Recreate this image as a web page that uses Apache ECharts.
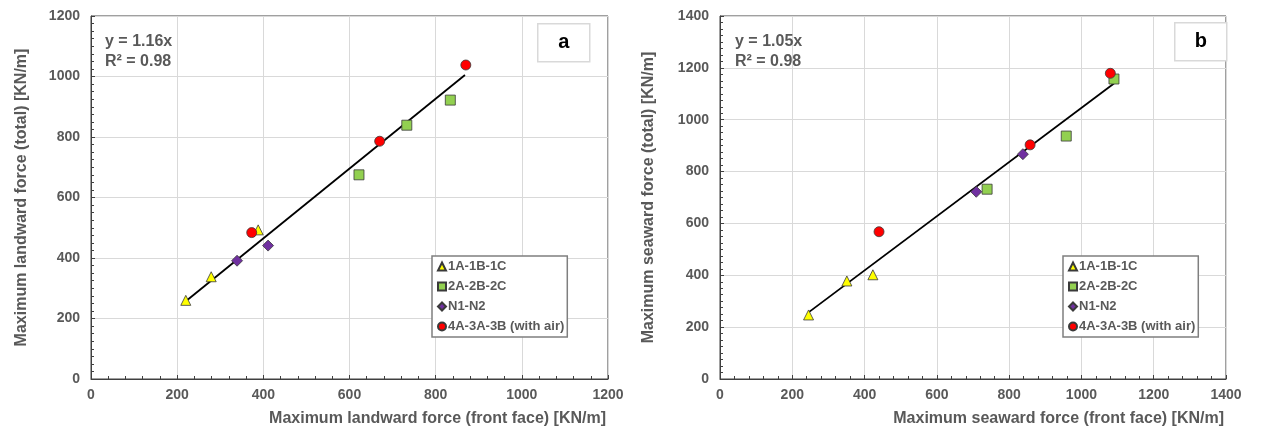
<!DOCTYPE html>
<html>
<head>
<meta charset="utf-8">
<script src="https://cdn.jsdelivr.net/npm/echarts@6/dist/echarts.min.js"></script>
<style>
html,body{margin:0;padding:0;background:#fff;}
#c{width:1262px;height:433px;}
</style>
</head>
<body>
<div id="c"></div>
<script>
// ---- data ----
const legendNames = ['1A-1B-1C', '2A-2B-2C', 'N1-N2', '4A-3A-3B (with air)'];
// panel a (landward)
const aTri = [[220, 260], [279, 338], [388, 493]];
const aSq  = [[622, 675], [733, 839], [834, 922]];
const aDia = [[339, 391], [411, 441]];
const aCir = [[373, 484], [670, 786], [870, 1038]];
const aTrendX = [220, 868];
const aTrendY = [257, 1005];
const aEq = ['y = 1.16x', 'R² = 0.98'];
// panel b (seaward)
const bTri = [[245, 247], [351, 378], [423, 402]];
const bSq  = [[739, 732], [958, 937], [1090, 1157]];
const bDia = [[709, 722], [838, 867]];
const bCir = [[440, 568], [858, 903], [1080, 1179]];
const bTrendX = [245, 1090];
const bTrendY = [257, 1140];
const bEq = ['y = 1.05x', 'R² = 0.98'];
// axes
const aMax = 1200, bMax = 1400, tickStep = 200;
const aXName = 'Maximum landward force (front face) [KN/m]';
const aYName = 'Maximum landward force (total) [KN/m]';
const bXName = 'Maximum seaward force (front face) [KN/m]';
const bYName = 'Maximum seaward force (total) [KN/m]';

// ---- styles ----
const FONT = '"Liberation Sans", Arial, sans-serif';
const GRAY = '#595959';
const symbols = ['triangle', 'rect', 'diamond', 'circle'];
const colors = ['#ffff00', '#92d050', '#7030a0', '#ff0000'];
const sizes = [10, 10, 11, 10];

function makeAxis(gridIndex, max, name, isY, nameGap) {
  const ax = {
    type: 'value', gridIndex, min: 0, max, interval: tickStep,
    axisLine: {show: true, onZero: false, lineStyle: {color: '#404040', width: 1}},
    axisTick: {show: true, inside: true, length: 4, lineStyle: {color: '#404040'}},
    minorTick: {show: true, splitNumber: isY ? 8 : 5, length: 3, lineStyle: {color: '#404040'}},
    splitLine: {show: true, lineStyle: {color: '#d9d9d9', width: 1}},
    axisLabel: {color: GRAY, fontFamily: FONT, fontWeight: 'bold', fontSize: 14, margin: isY ? 11 : 9,
      formatter: v => String(v)},
    name,
    nameTextStyle: {color: GRAY, fontFamily: FONT, fontWeight: 'bold', fontSize: 16}
  };
  if (isY) {
    ax.nameLocation = 'middle';
    ax.nameGap = nameGap;
  } else {
    ax.nameLocation = 'end';
    ax.nameGap = nameGap;
    ax.nameTextStyle.align = 'right';
    ax.nameTextStyle.verticalAlign = 'top';
    ax.nameTextStyle.padding = [32, 0, 0, 0];
  }
  return ax;
}

function scatterSeries(gi, sets) {
  return sets.map((d, i) => ({
    type: 'scatter', name: legendNames[i], xAxisIndex: gi, yAxisIndex: gi,
    symbol: symbols[i], symbolSize: sizes[i], data: d, z: 5,
    itemStyle: {color: colors[i], borderColor: '#3a3a3a', borderWidth: 0.8, opacity: 1}
  }));
}

function trendSeries(gi, xs, ys) {
  return {
    type: 'line', name: 'trend' + gi, xAxisIndex: gi, yAxisIndex: gi,
    data: xs.map((x, i) => [x, ys[i]]), symbol: 'none', z: 3,
    lineStyle: {color: '#000', width: 1.8}, silent: true
  };
}

function legendFor(left) {
  return {
    data: legendNames, orient: 'vertical', left, top: 256,
    itemWidth: 8, itemHeight: 8, itemGap: 7,
    padding: [4, 3, 4, 5], borderColor: '#7f7f7f', borderWidth: 1.5,
    backgroundColor: '#fff',
    textStyle: {color: GRAY, fontFamily: FONT, fontWeight: 'bold', fontSize: 13, padding: [0, 0, 0, -3]},
    selectedMode: false
  };
}

function eqText(x, lines) {
  return {
    type: 'text', left: x, top: 32, z: 10,
    style: {text: lines.join('\n'), fill: GRAY, font: 'bold 16px ' + FONT, lineHeight: 20}
  };
}

function panelLabel(x, y, ch) {
  return {
    type: 'group', left: x, top: y, z: 10,
    children: [
      {type: 'rect', shape: {x: 0, y: 0, width: 52, height: 38}, style: {fill: '#fff', stroke: '#d9d9d9', lineWidth: 1.5}},
      {type: 'text', x: 26, y: 19, style: {text: ch, fill: '#000', font: 'bold 20px ' + FONT, align: 'center', verticalAlign: 'middle'}}
    ]
  };
}

const chart = echarts.init(document.getElementById('c'), null, {renderer: 'canvas'});
chart.setOption({
  animation: false,
  backgroundColor: '#fff',
  grid: [
    {left: 91, top: 16, width: 517, height: 363, show: true, borderColor: '#404040', borderWidth: 1, containLabel: false},
    {left: 720, top: 16, width: 506, height: 363, show: true, borderColor: '#404040', borderWidth: 1, containLabel: false}
  ],
  xAxis: [
    makeAxis(0, aMax, aXName, false, -2),
    makeAxis(1, bMax, bXName, false, -2)
  ],
  yAxis: [
    makeAxis(0, aMax, aYName, true, 61),
    makeAxis(1, bMax, bYName, true, 63)
  ],
  legend: [legendFor(432), legendFor(1063)],
  series: [
    trendSeries(0, aTrendX, aTrendY),
    trendSeries(1, bTrendX, bTrendY),
    ...scatterSeries(0, [aTri, aSq, aDia, aCir]),
    ...scatterSeries(1, [bTri, bSq, bDia, bCir])
  ],
  graphic: [
    eqText(105, aEq),
    eqText(735, bEq),
    panelLabel(537, 23, 'a'),
    panelLabel(1174, 22, 'b')
  ]
});
</script>
</body>
</html>
